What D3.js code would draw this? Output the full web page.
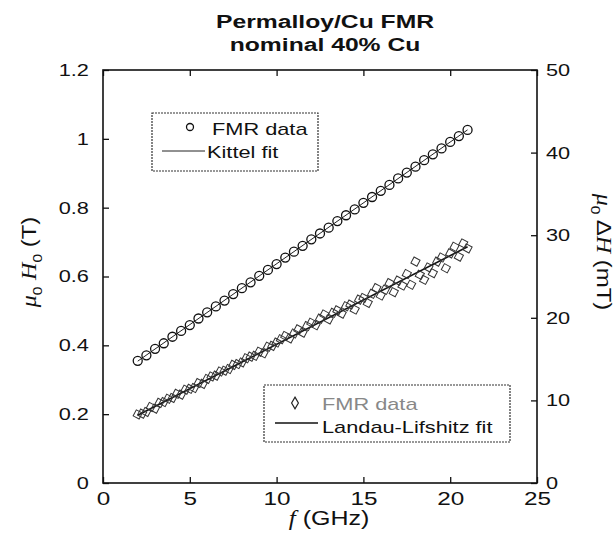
<!DOCTYPE html>
<html>
<head>
<meta charset="utf-8">
<script src="https://cdn.jsdelivr.net/npm/d3@7/dist/d3.min.js"></script>
<style>
  body { margin: 0; background: #fff; }
  svg { display: block; }
</style>
</head>
<body>
<svg id="chart" width="615" height="539"></svg>
<script>
// resonance field (left axis, T) vs frequency
const freqH = [2, 2.5, 3, 3.5, 4, 4.5, 5, 5.5, 6, 6.5, 7, 7.5, 8, 8.5, 9, 9.5, 10, 10.5, 11, 11.5,
  12, 12.5, 13, 13.5, 14, 14.5, 15, 15.5, 16, 16.5, 17, 17.5, 18, 18.5, 19, 19.5, 20, 20.5, 21]
const fieldH = [0.355, 0.371, 0.390, 0.406, 0.425, 0.442, 0.459, 0.478, 0.496, 0.513, 0.530, 0.549, 0.566, 0.583, 0.602, 0.619,
  0.636, 0.655, 0.672, 0.689, 0.708, 0.725, 0.742, 0.761, 0.778, 0.795, 0.814, 0.831, 0.849, 0.866, 0.885, 0.902,
  0.919, 0.938, 0.955, 0.972, 0.991, 1.008, 1.026]

// linewidth (right axis, mT) vs frequency
const freqW = [2, 2.25, 2.5, 2.75, 3, 3.25, 3.5, 3.75, 4, 4.25, 4.5, 4.75, 5, 5.25, 5.5, 5.75, 6, 6.25, 6.5, 6.75,
  7, 7.25, 7.5, 7.75, 8, 8.25, 8.5, 8.75, 9, 9.25, 9.5, 9.75, 10, 10.25, 10.5, 10.75, 11, 11.25, 11.5, 11.75,
  12, 12.25, 12.5, 12.75, 13, 13.25, 13.5, 13.75, 14, 14.25, 14.5, 14.75, 15, 15.25, 15.5, 15.75, 16, 16.25, 16.5, 16.75,
  17, 17.25, 17.5, 17.75, 18, 18.25, 18.5, 18.75, 19, 19.25, 19.5, 19.75, 20, 20.25, 20.5, 20.75, 21]
const widthW = [8.3, 8.4, 8.6, 9.2, 9.0, 9.7, 9.8, 10.2, 10.3, 10.8, 10.7, 11.3, 11.4, 11.5, 12.1, 12.0, 12.6, 12.9, 13.0, 13.5,
  13.6, 13.8, 14.3, 14.4, 14.6, 15.1, 15.3, 15.4, 15.9, 15.7, 16.5, 16.6, 17.0, 17.4, 17.8, 17.5, 18.1, 18.6, 18.2, 19.0,
  19.4, 19.1, 19.9, 20.4, 19.8, 20.6, 20.9, 20.5, 21.4, 21.6, 21.0, 22.2, 22.4, 21.8, 22.9, 23.6, 22.7, 23.4, 24.2, 23.1,
  24.5, 23.9, 25.3, 24.0, 26.8, 25.2, 24.6, 26.1, 25.4, 26.8, 27.3, 26.0, 27.8, 28.6, 27.4, 29.0, 28.4]

// fit lines (end points)
const fitF = [2, 21]
const kittelFit = [0.354, 1.026]
const llFit = [8.2, 28.6]

const xTicks = [0, 5, 10, 15, 20, 25]
const leftTicks = [0, 0.2, 0.4, 0.6, 0.8, 1, 1.2]
const rightTicks = [0, 10, 20, 30, 40, 50]

const W = 615, H = 539
const margin = { top: 70, right: 78, bottom: 56, left: 103 }
const x0 = margin.left, x1 = W - margin.right
const y0 = margin.top, y1 = H - margin.bottom
const SANS = "'Liberation Sans', Arial, sans-serif"
const SERIF = "'Liberation Serif', 'Times New Roman', serif"
const STRETCH = 1.28 // the scanned lettering is wide

const svg = d3.select('#chart')
const x = d3.scaleLinear().domain([0, 25]).range([x0, x1])
const yL = d3.scaleLinear().domain([0, 1.2]).range([y1, y0])
const yR = d3.scaleLinear().domain([0, 50]).range([y1, y0])

function styleAxis(g, size) {
  g.select('.domain').remove()
  g.selectAll('line').attr('stroke', '#111').attr('stroke-width', 1.3)
  g.selectAll('text')
    .attr('fill', '#111')
    .attr('font-family', SANS)
    .attr('font-size', size)
    .attr('transform', `scale(${STRETCH},1)`)
}

// axes, ticks point inwards
svg.append('g').attr('transform', `translate(0,${y1})`)
  .call(d3.axisBottom(x).tickValues(xTicks).tickSizeInner(-6).tickSizeOuter(0).tickPadding(9).tickFormat(d3.format('d')))
  .call(g => styleAxis(g, 19))
svg.append('g').attr('transform', `translate(0,${y0})`)
  .call(d3.axisTop(x).tickValues(xTicks).tickSizeInner(-6).tickSizeOuter(0).tickFormat(''))
  .call(g => styleAxis(g, 17))
svg.append('g').attr('transform', `translate(${x0},0)`)
  .call(d3.axisLeft(yL).tickValues(leftTicks).tickSizeInner(-6).tickSizeOuter(0).tickPadding(11).tickFormat(d3.format('~g')))
  .call(g => styleAxis(g, 17))
svg.append('g').attr('transform', `translate(${x1},0)`)
  .call(d3.axisRight(yR).tickValues(rightTicks).tickSizeInner(-6).tickSizeOuter(0).tickPadding(7).tickFormat(d3.format('d')))
  .call(g => styleAxis(g, 17))

svg.append('rect')
  .attr('x', x0).attr('y', y0).attr('width', x1 - x0).attr('height', y1 - y0)
  .attr('fill', 'none').attr('stroke', '#111').attr('stroke-width', 1.6)

// fits
const fitLine = d3.line()
svg.append('path')
  .attr('d', fitLine(fitF.map((f, i) => [x(f), yL(kittelFit[i])])))
  .attr('stroke', '#222').attr('stroke-width', 1).attr('fill', 'none')
svg.append('path')
  .attr('d', fitLine(fitF.map((f, i) => [x(f), yR(llFit[i])])))
  .attr('stroke', '#111').attr('stroke-width', 1.6).attr('fill', 'none')

// data
svg.append('g').selectAll('circle')
  .data(freqH.map((f, i) => [f, fieldH[i]]))
  .join('circle')
  .attr('cx', d => x(d[0])).attr('cy', d => yL(d[1])).attr('r', 4.5)
  .attr('fill', 'none').attr('stroke', '#111').attr('stroke-width', 1.3)

const square = d3.symbol(d3.symbolSquare, 46)
svg.append('g').selectAll('path')
  .data(freqW.map((f, i) => [f, widthW[i]]))
  .join('path')
  .attr('d', square)
  .attr('transform', d => `translate(${x(d[0])},${yR(d[1])}) rotate(28)`)
  .attr('fill', 'none').attr('stroke', '#333').attr('stroke-width', 1)

// title
const title = svg.append('g').attr('font-family', SANS).attr('font-weight', 'bold').attr('font-size', 19).attr('fill', '#111')
title.append('text').attr('transform', `translate(325,28) scale(1.3,1)`).attr('text-anchor', 'middle').text('Permalloy/Cu FMR')
title.append('text').attr('transform', `translate(325,51) scale(1.3,1)`).attr('text-anchor', 'middle').text('nominal 40% Cu')

// axis titles
const xl = svg.append('text').attr('transform', `translate(329,525) scale(1.25,1)`)
  .attr('text-anchor', 'middle').attr('font-family', SANS).attr('font-size', 20).attr('fill', '#111')
xl.append('tspan').attr('font-family', SERIF).attr('font-style', 'italic').text('f')
xl.append('tspan').text(' (GHz)')

const yl = svg.append('text').attr('transform', `translate(36,262) rotate(-90) scale(1.2,1)`)
  .attr('text-anchor', 'middle').attr('font-family', SANS).attr('font-size', 20).attr('fill', '#111')
yl.append('tspan').attr('font-family', SERIF).attr('font-style', 'italic').text('μ')
yl.append('tspan').attr('font-size', 13).attr('dy', 6).text('0')
yl.append('tspan').attr('dy', -6).text(' ')
yl.append('tspan').attr('font-family', SERIF).attr('font-style', 'italic').text('H')
yl.append('tspan').attr('font-size', 13).attr('dy', 6).text('0')
yl.append('tspan').attr('dy', -6).text(' (T)')

const yr = svg.append('text').attr('transform', `translate(597,252) rotate(90) scale(1.2,1)`)
  .attr('text-anchor', 'middle').attr('font-family', SANS).attr('font-size', 20).attr('fill', '#111')
yr.append('tspan').attr('font-family', SERIF).attr('font-style', 'italic').text('μ')
yr.append('tspan').attr('font-size', 13).attr('dy', 6).text('0')
yr.append('tspan').attr('dy', -6).text(' Δ')
yr.append('tspan').attr('font-family', SERIF).attr('font-style', 'italic').text('H')
yr.append('tspan').text(' (mT)')

// legends
function legendText(g, tx, ty, label, fill) {
  g.append('text').attr('transform', `translate(${tx},${ty}) scale(${STRETCH},1)`)
    .attr('font-family', SANS).attr('font-size', 17).attr('fill', fill).text(label)
}

const lg1 = svg.append('g')
lg1.append('rect').attr('x', 152).attr('y', 113).attr('width', 166).attr('height', 58)
  .attr('fill', '#fff').attr('stroke', '#333').attr('stroke-width', 1.2).attr('stroke-dasharray', '2,1')
lg1.append('circle').attr('cx', 190).attr('cy', 127).attr('r', 3.5)
  .attr('fill', 'none').attr('stroke', '#111').attr('stroke-width', 1.3)
legendText(lg1, 212, 135, 'FMR data', '#111')
lg1.append('line').attr('x1', 162).attr('x2', 205).attr('y1', 151).attr('y2', 151).attr('stroke', '#222').attr('stroke-width', 1)
legendText(lg1, 207, 158, 'Kittel fit', '#111')

const lg2 = svg.append('g')
lg2.append('rect').attr('x', 264).attr('y', 385).attr('width', 246).attr('height', 57)
  .attr('fill', '#fff').attr('stroke', '#333').attr('stroke-width', 1.2).attr('stroke-dasharray', '2,1')
lg2.append('path').attr('d', d3.symbol(d3.symbolDiamond, 40))
  .attr('transform', 'translate(295,403)')
  .attr('fill', 'none').attr('stroke', '#222').attr('stroke-width', 1.2)
legendText(lg2, 322, 410, 'FMR data', '#888')
lg2.append('line').attr('x1', 275).attr('x2', 318).attr('y1', 423).attr('y2', 423).attr('stroke', '#111').attr('stroke-width', 1.6)
legendText(lg2, 322, 433, 'Landau-Lifshitz fit', '#111')
</script>
</body>
</html>
